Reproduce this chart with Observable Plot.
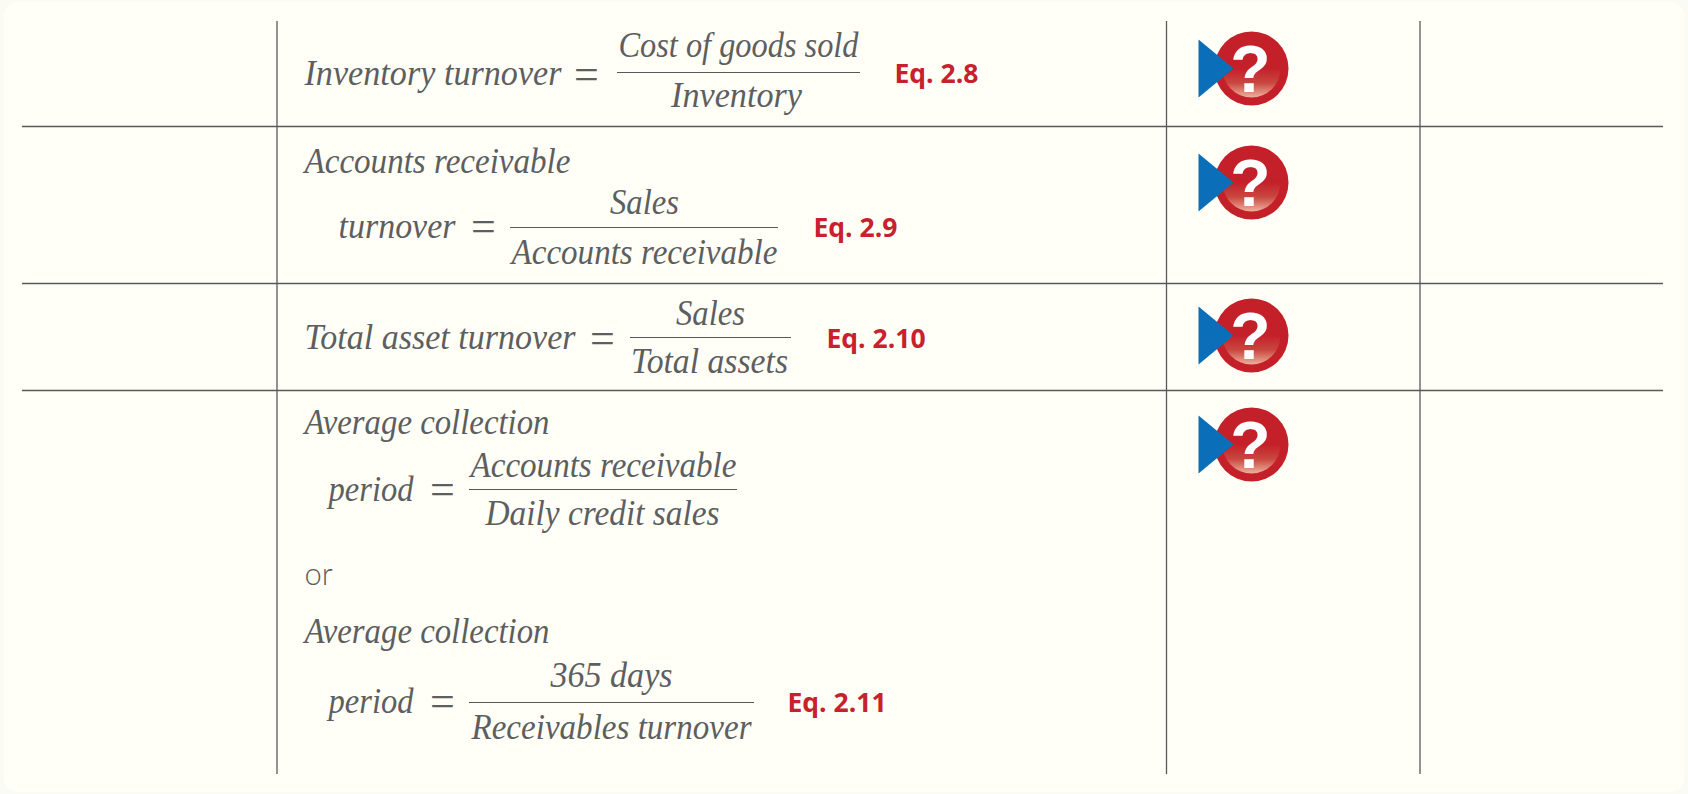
<!DOCTYPE html>
<html><head><meta charset="utf-8">
<script src="https://cdn.jsdelivr.net/npm/d3@7"></script>
<script src="https://cdn.jsdelivr.net/npm/@observablehq/plot@0.6"></script>
<style>html,body{margin:0;padding:0;background:#fbfbf6;overflow:hidden}svg{display:block}</style>
</head><body><div id="chart"></div>
<script>
// content
const startLabels = [
  ["Inventory turnover",304,84,257],["Accounts receivable",304,172,266],["turnover",338,237,117],
  ["Total asset turnover",304,348,271],["Average collection",304,433,245],["period",328,500,85],
  ["Average collection",304,642,245],["period",328,712,85]
];
const middleLabels = [
  ["Cost of goods sold",738,56,240],["Inventory",736,106,131],["Sales",644,213,69],["Accounts receivable",644,263,266],
  ["Sales",710,324,69],["Total assets",709,372,157],["Accounts receivable",603,476,266],["Daily credit sales",602,524,234],
  ["365 days",611,686,122],["Receivables turnover",611,738,280]
];
const equalsSigns = [[586,85],[483,237],[602,349],[442,500],[442,712]];
const equationLabels = [["Eq. 2.8",894,82],["Eq. 2.9",813,236],["Eq. 2.10",826,347],["Eq. 2.11",787,711]];
const fractionBars = [[617,860,72],[510,778,227],[630,791,337],[469,737,489],[469,754,702]];
const connectors = ["or"];
const columnRules = [276.5,1166,1419.5];
const rowRules = [126,283,390];
const iconRows = [68,182,335,444];

const iconX = 1251, triLeft = 1198, triRight = 1233, triHalf = 29;
const triangle = iconRows.flatMap((y,i)=>[[triLeft,y-triHalf,i],[triRight,y,i],[triLeft,y+triHalf,i]]);

const defs = () => {
  const ns="http://www.w3.org/2000/svg";
  const d=document.createElementNS(ns,"defs");
  d.innerHTML=`<linearGradient id="glow" x1="0" y1="0" x2="0" y2="1">
    <stop offset="0.5" stop-color="#c4202a"/><stop offset="0.75" stop-color="#c9473f"/><stop offset="1" stop-color="#eeb09c"/></linearGradient>`;
  return d;
};
// fit each label to the width it has in the reference
const fit = rows => (index, scales, values, dims, ctx, next) => {
  const g = next(index, scales, values, dims, ctx);
  g.querySelectorAll("text").forEach((t,i)=>{ t.setAttribute("textLength",rows[index[i]][3]); t.setAttribute("lengthAdjust","spacingAndGlyphs"); });
  return g;
};

const serif = "'Liberation Serif', serif";
const italic = {x:d=>d[1],y:d=>d[2],text:d=>d[0],lineAnchor:"bottom",dy:0,fontFamily:serif,fontStyle:"italic",fontSize:35,fill:"#5d5e60"};
const chart = Plot.plot({
  width:1688,height:794,margin:0,
  x:{domain:[0,1688],range:[0,1688],axis:null},
  y:{domain:[0,794],range:[0,794],axis:null},
  style:{background:"transparent"},
  marks:[
    defs,
    Plot.rect([[4,1684,2,792]],{x1:d=>d[0],x2:d=>d[1],y1:d=>d[2],y2:d=>d[3],fill:"#fffff7",r:14}),
    Plot.ruleX(columnRules,{x:d=>d,y1:21,y2:774,stroke:"#58595b",strokeWidth:1.3}),
    Plot.ruleY(rowRules,{y:d=>d,x1:22,x2:1663,stroke:"#58595b",strokeWidth:1.3}),
    Plot.ruleY(fractionBars,{y:d=>d[2],x1:d=>d[0],x2:d=>d[1],stroke:"#58595b",strokeWidth:1.2}),
    Plot.text(startLabels,{...italic,textAnchor:"start",render:fit(startLabels)}),
    Plot.text(middleLabels,{...italic,textAnchor:"middle",render:fit(middleLabels)}),
    Plot.text(equalsSigns,{x:d=>d[0],y:d=>d[1],text:()=>"=",lineAnchor:"bottom",dy:3,fontFamily:serif,fontSize:44,fill:"#5d5e60"}),
    Plot.text(connectors,{x:()=>304,y:()=>583,text:d=>d,textAnchor:"start",lineAnchor:"bottom",dy:1,fontFamily:"Lato",fontWeight:300,fontSize:31,fill:"#5d5e60"}),
    Plot.text(equationLabels,{x:d=>d[1],y:d=>d[2],text:d=>d[0],textAnchor:"start",lineAnchor:"bottom",dy:0,fontFamily:"'Open Sans'",fontWeight:700,fontSize:26.5,fill:"#c8202c"}),
    Plot.dot(iconRows,{x:()=>iconX,y:d=>d,r:37,fill:"#c4202a"}),
    Plot.dot(iconRows,{x:()=>iconX,y:d=>d,r:29,fill:"url(#glow)"}),
    Plot.line(triangle,{x:d=>d[0],y:d=>d[1],z:d=>d[2],fill:"#0a6fb8",stroke:"none"}),
    Plot.text(iconRows,{x:()=>iconX-1,y:d=>d,dy:23,lineAnchor:"bottom",text:()=>"?",fontFamily:"'Liberation Sans'",fontWeight:700,fontSize:66,fill:"#ffffff"})
  ]
});
document.getElementById("chart").append(chart);
</script></body></html>
